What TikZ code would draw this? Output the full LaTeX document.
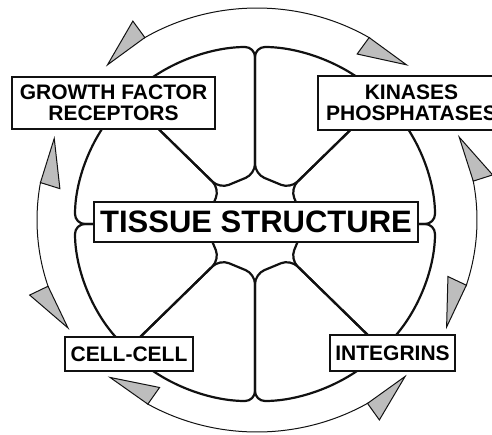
\documentclass[tikz,border=0pt]{standalone}
\usepackage{fontspec}
\setmainfont{Liberation Sans}
\usetikzlibrary{arrows.meta,bending,calc,positioning}
\definecolor{ink}{HTML}{111111}
\definecolor{shade}{HTML}{BDBDBD}
\tikzset{
  tag/.style={draw=ink, fill=white, line width=0.6pt, align=center, inner sep=0pt,
              font=\fontsize{10.5}{10.5}\selectfont\bfseries},
  wall/.style={draw=ink, line width=1.1pt, rounded corners=5pt},
  loop/.style={draw=ink, line width=0.5pt,
               arrows={Triangle[harpoon,swap,length=24pt,width=21pt,fill=shade,flex]-Triangle[harpoon,swap,length=24pt,width=21pt,fill=shade,flex]}}
}

\begin{document}
\begin{tikzpicture}[x=0.5pt,y=0.5pt]
    \useasboundingbox (0,0) rectangle (492,-434);
    \coordinate (ring) at (257,-220);
    \coordinate (hub) at (255,-224);

    % cells round the hub
    \foreach \a [evaluate=\a as \b using \a+45] in {0,45,...,315} {
      \draw[wall] ($(hub)+(\a:50)$) -- ($(hub)+(\a:180 and 177)$)
        arc[start angle=\a, end angle=\b, x radius=180, y radius=177]
        -- ($(hub)+(\b:50)$) -- cycle;
    }

    % outer ring
    \foreach \s/\e in {133.5/46.5, 23.7/-31, -47/-132.6, 211.3/156.7} {
      \draw[loop] ($(ring)+(\s:220 and 212)$)
        arc[start angle=\s, end angle=\e, x radius=220, y radius=212];
    }

    % boxes
    \node[tag,minimum width=162pt,minimum height=20pt,font=\fontsize{15.5}{15.5}\selectfont\bfseries] (tissue) at (256,-222) {TISSUE STRUCTURE};
    \node[tag,minimum width=101.5pt,minimum height=26pt] (growth) at (113.5,-103) {GROWTH FACTOR\\RECEPTORS};
    \node[tag,minimum width=93.5pt,minimum height=27pt] (kinase) at (411.5,-103) {KINASES\\PHOSPHATASES};
    \node[tag,minimum width=64pt,minimum height=17pt] (cellcell) at (129,-354) {CELL-CELL};
    \node[tag,minimum width=62.5pt,minimum height=18pt] (integrin) at (392.5,-353) {INTEGRINS};
\end{tikzpicture}
\end{document}
